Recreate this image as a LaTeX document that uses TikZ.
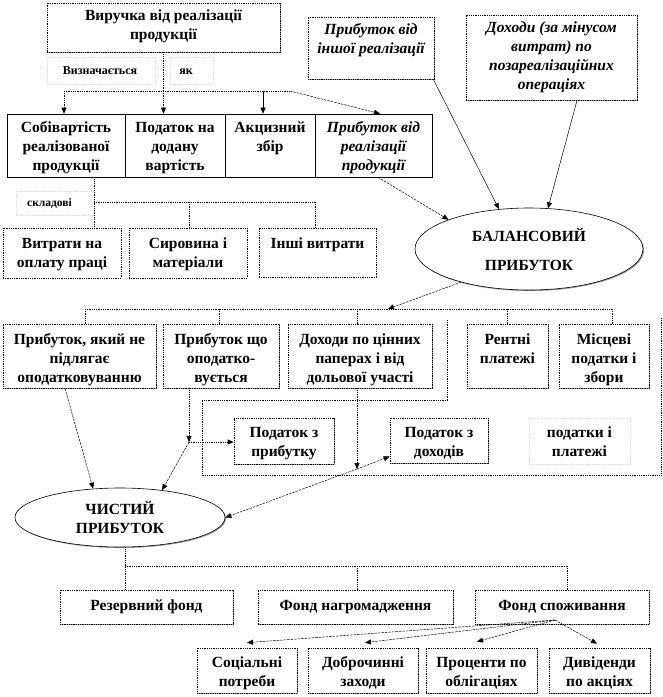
\documentclass[tikz,border=0pt]{standalone}
\usepackage{fontspec}
\setmainfont{Liberation Serif}
\usetikzlibrary{arrows.meta,shapes.geometric,shadows}
\newcommand\bx[6]{\node[#1, minimum width={(#5-#3)*1pt}, minimum height={(#6-#4)*1pt}] (#2) at ({(#3+#5)/2},{(#4+#6)/2}) {};}
\newcommand\tx[5]{\node[#1, anchor=north] (#2) at (#3,{#4-13}) {\rule{0pt}{13pt}#5};}
\tikzset{
  x=1pt, y=-1pt,
  dotl/.style={line width=0.7pt, dash pattern=on 0.9pt off 0.9pt},
  dashl/.style={line width=0.5pt, dash pattern=on 2.5pt off 1pt},
  solidl/.style={line width=0.5pt},
  tip/.style={-{Triangle[width=5pt,length=6pt]}},
  boxbase/.style={rectangle, inner sep=0pt, fill=white},
  sbox/.style={boxbase, draw, line width=0.6pt},
  dbox/.style={boxbase, draw, dotl, drop shadow={shadow xshift=1.3pt, shadow yshift=-1.3pt, fill=gray!80, opacity=1}},
  nbox/.style={boxbase, draw, dotl},
  fbox/.style={boxbase, draw=gray!25, dotl},
  txt/.style={inner sep=0pt, align=center, font=\fontsize{15.5}{19}\selectfont\bfseries},
  itxt/.style={txt, font=\fontsize{15.5}{19}\selectfont\bfseries\itshape},
  stxt/.style={txt, font=\fontsize{12}{14}\selectfont\bfseries},
  sstxt/.style={txt, font=\fontsize{11.5}{13}\selectfont\bfseries},
  ell/.style={ellipse, draw, line width=0.6pt, fill=white, inner sep=0pt, align=center,
    font=\fontsize{15.5}{19}\selectfont\bfseries,
    drop shadow={shadow xshift=1pt, shadow yshift=-1pt, fill=gray!80, opacity=1}},
}
\begin{document}
\begin{tikzpicture}
\useasboundingbox (0,0) rectangle (663,697);
\fill[white] (0,0) rectangle (663,697);

% ---- boxes ----
\bx{dbox}{T}{47}{3}{280}{52}
\tx{txt}{Tt}{163.5}{20.5}{Виручка від реалізації\\продукції}
\bx{fbox}{L1}{47}{57}{155}{84}
\tx{stxt}{L1t}{100}{74}{Визначається}
\bx{fbox}{L2}{170}{57}{213}{84}
\tx{stxt}{L2t}{186}{74}{як}

\bx{sbox}{A1}{7}{114}{125}{177}
\bx{sbox}{A2}{125}{114}{225}{177}
\bx{sbox}{A3}{225}{114}{315}{177}
\bx{sbox}{A4}{315}{114}{432}{177}
\tx{txt}{A1t}{66}{132.5}{Собівартість\\реалізованої\\продукції}
\tx{txt}{A2t}{175}{132.5}{Податок на\\додану\\вартість}
\tx{txt}{A3t}{270}{132.5}{Акцизний\\збір}
\tx{itxt}{A4t}{373.5}{132.5}{Прибуток від\\реалізації\\продукції}

\bx{dbox}{B1}{308}{17}{434}{79}
\tx{itxt}{B1t}{371}{34.5}{Прибуток від\\іншої реалізації}
\bx{dbox}{B2}{466}{15}{637}{100}
\tx{itxt}{B2t}{551.5}{32.5}{Доходи (за мінусом\\витрат) по\\позареалізаційних\\операціях}

\bx{fbox}{L3}{16}{191}{94}{215}
\tx{sstxt}{L3t}{49.5}{206.5}{складові}

\bx{nbox}{C1}{3}{228}{121}{278}
\bx{nbox}{C2}{129}{228}{247}{278}
\bx{nbox}{C3}{259}{228}{376}{277}
\tx{txt}{C1t}{62}{248.5}{Витрати на\\оплату праці}
\tx{txt}{C2t}{188}{248.5}{Сировина і\\матеріали}
\tx{txt}{C3t}{317.5}{248.5}{Інші витрати}

\node[ell, minimum width=228pt, minimum height=82pt] (Bal) at (529,249) {БАЛАНСОВИЙ\\[10pt]ПРИБУТОК};

\bx{dbox}{D1}{3}{324}{156}{388}
\bx{dbox}{D2}{163}{324}{279}{388}
\bx{dbox}{D3}{288}{324}{432}{388}
\bx{dbox}{D4}{467}{324}{548}{388}
\bx{dbox}{D5}{559}{324}{649}{388}
\tx{txt}{D1t}{79.5}{344.5}{Прибуток, який не\\підлягає\\оподатковуванню}
\tx{txt}{D2t}{221}{344.5}{Прибуток що\\оподатко-\\вується}
\tx{txt}{D3t}{360}{344.5}{Доходи по цінних\\паперах і від\\дольової участі}
\tx{txt}{D4t}{507.5}{344.5}{Рентні\\платежі}
\tx{txt}{D5t}{604}{344.5}{Місцеві\\податки і\\збори}

\bx{dbox}{E1}{234}{418}{334}{464}
\bx{dbox}{E2}{390}{418}{488}{463}
\bx{fbox}{E3}{529}{418}{630}{464}
\tx{txt}{E1t}{284}{437.5}{Податок з\\прибутку}
\tx{txt}{E2t}{439}{437.5}{Податок з\\доходів}
\tx{txt}{E3t}{579.5}{437.5}{податки і\\платежі}

\node[ell, minimum width=210pt, minimum height=59pt] (Net) at (120,517.5) {ЧИСТИЙ\\ПРИБУТОК};

\bx{dbox}{F1}{60}{590}{233}{624}
\bx{dbox}{F2}{258}{590}{453}{624}
\bx{dbox}{F3}{475}{590}{649}{624}
\tx{txt}{F1t}{146.5}{610.5}{Резервний фонд}
\tx{txt}{F2t}{355.5}{610.5}{Фонд нагромадження}
\tx{txt}{F3t}{562}{610.5}{Фонд споживання}

\bx{dbox}{G1}{197}{648}{297}{693}
\bx{dbox}{G2}{308}{648}{418}{693}
\bx{dbox}{G3}{426}{648}{537}{693}
\bx{dbox}{G4}{549}{648}{650}{693}
\tx{txt}{G1t}{247}{667.5}{Соціальні\\потреби}
\tx{txt}{G2t}{363}{667.5}{Доброчинні\\заходи}
\tx{txt}{G3t}{481.5}{667.5}{Проценти по\\облігаціях}
\tx{txt}{G4t}{599.5}{667.5}{Дивіденди\\по акціях}

% ---- connectors ----
\coordinate (t1) at (64,91);
\coordinate (t3) at (263,91);
\coordinate (t4) at (290,91);
\coordinate (t2) at (T.south |- t1);
\draw[dotl] (T.south) -- (t2);
\draw[dotl] (t1) -- (t4);
\draw[dotl,tip] (t1) -- (t1 |- A1.north);
\draw[dotl,tip] (t2) -- (t2 |- A2.north);
\draw[solidl,tip] (t3) -- (t3 |- A3.north);
\draw[dashl,tip] (t4) -- ([xshift=6.5pt]A4.north);

\draw[solidl,tip] ([xshift=-1pt]B1.south east) -- (Bal.127);
\draw[solidl,tip] ([xshift=25.5pt]B2.south) -- (Bal.65);
\draw[dashl,tip] ([xshift=4.5pt]A4.south) -- (Bal.160);

\coordinate (s0) at (94,202);
\coordinate (s2) at (189,202);
\coordinate (s3) at (315,202);
\draw[dotl] ([xshift=28pt]A1.south) -- (s0 |- C1.north);
\draw[dotl] (s0) -- (s3);
\draw[dotl] (s2) -- (s2 |- C2.north);
\draw[dotl] (s3) -- (s3 |- C3.north);

\coordinate (r1) at (85,309);
\coordinate (r2) at (219,309);
\coordinate (r3) at (357,309);
\coordinate (r4) at (507,309);
\coordinate (r5) at (612,309);
\coordinate (ra) at (388,309);
\draw[dashl,tip] (Bal.206) -- (ra);
\draw[dotl] (r1) -- (r5);
\draw[dotl] (r1) -- (r1 |- D1.north);
\draw[dotl] (r2) -- (r2 |- D2.north);
\draw[dotl] (r3) -- (r3 |- D3.north);
\draw[dotl] (r4) -- (r4 |- D4.north);
\draw[dotl] (r5) -- (r5 |- D5.north);

\draw[dotl] (447,320) -- (447,400) -- (202,400) -- (202,475) -- (661,475) -- (661,318);

\draw[dashl,tip] ([xshift=-14.5pt]D1.south) -- (Net.133);
\coordinate (j1) at (189,442);
\draw[dotl,tip] (j1 |- D2.south) -- (j1);
\draw[dotl,tip] (j1) -- (j1 -| E1.west);
\draw[dashl,tip] (j1) -- (Net.33);
\coordinate (j2) at (357,469);
\draw[dotl,tip] (j2 |- D3.south) -- (j2);
\draw[dashl,tip] (j2) -- ([yshift=-16pt]E2.west);
\draw[dashl,tip] (j2) -- (Net.east);

\coordinate (n0) at (125,566);
\coordinate (n2) at (357,566);
\coordinate (n3) at (567,566);
\draw[dotl] (Net.south -| n0) -- (n0 |- F1.north);
\draw[dotl] (n0) -- (n3);
\draw[dotl] (n2) -- (n2 |- F2.north);
\draw[dotl] (n3) -- (n3 |- F3.north);

\coordinate (fo) at (555,620);
\draw[dashl,tip] (fo) -- ([yshift=5pt]G1.north);
\draw[dashl,tip] (fo) -- ([xshift=2pt,yshift=5pt]G2.north);
\draw[dashl,tip] (fo) -- ([xshift=-4.5pt,yshift=6pt]G3.north);
\draw[dashl,tip] (fo) -- ([xshift=-2.5pt,yshift=4pt]G4.north);
\end{tikzpicture}
\end{document}
